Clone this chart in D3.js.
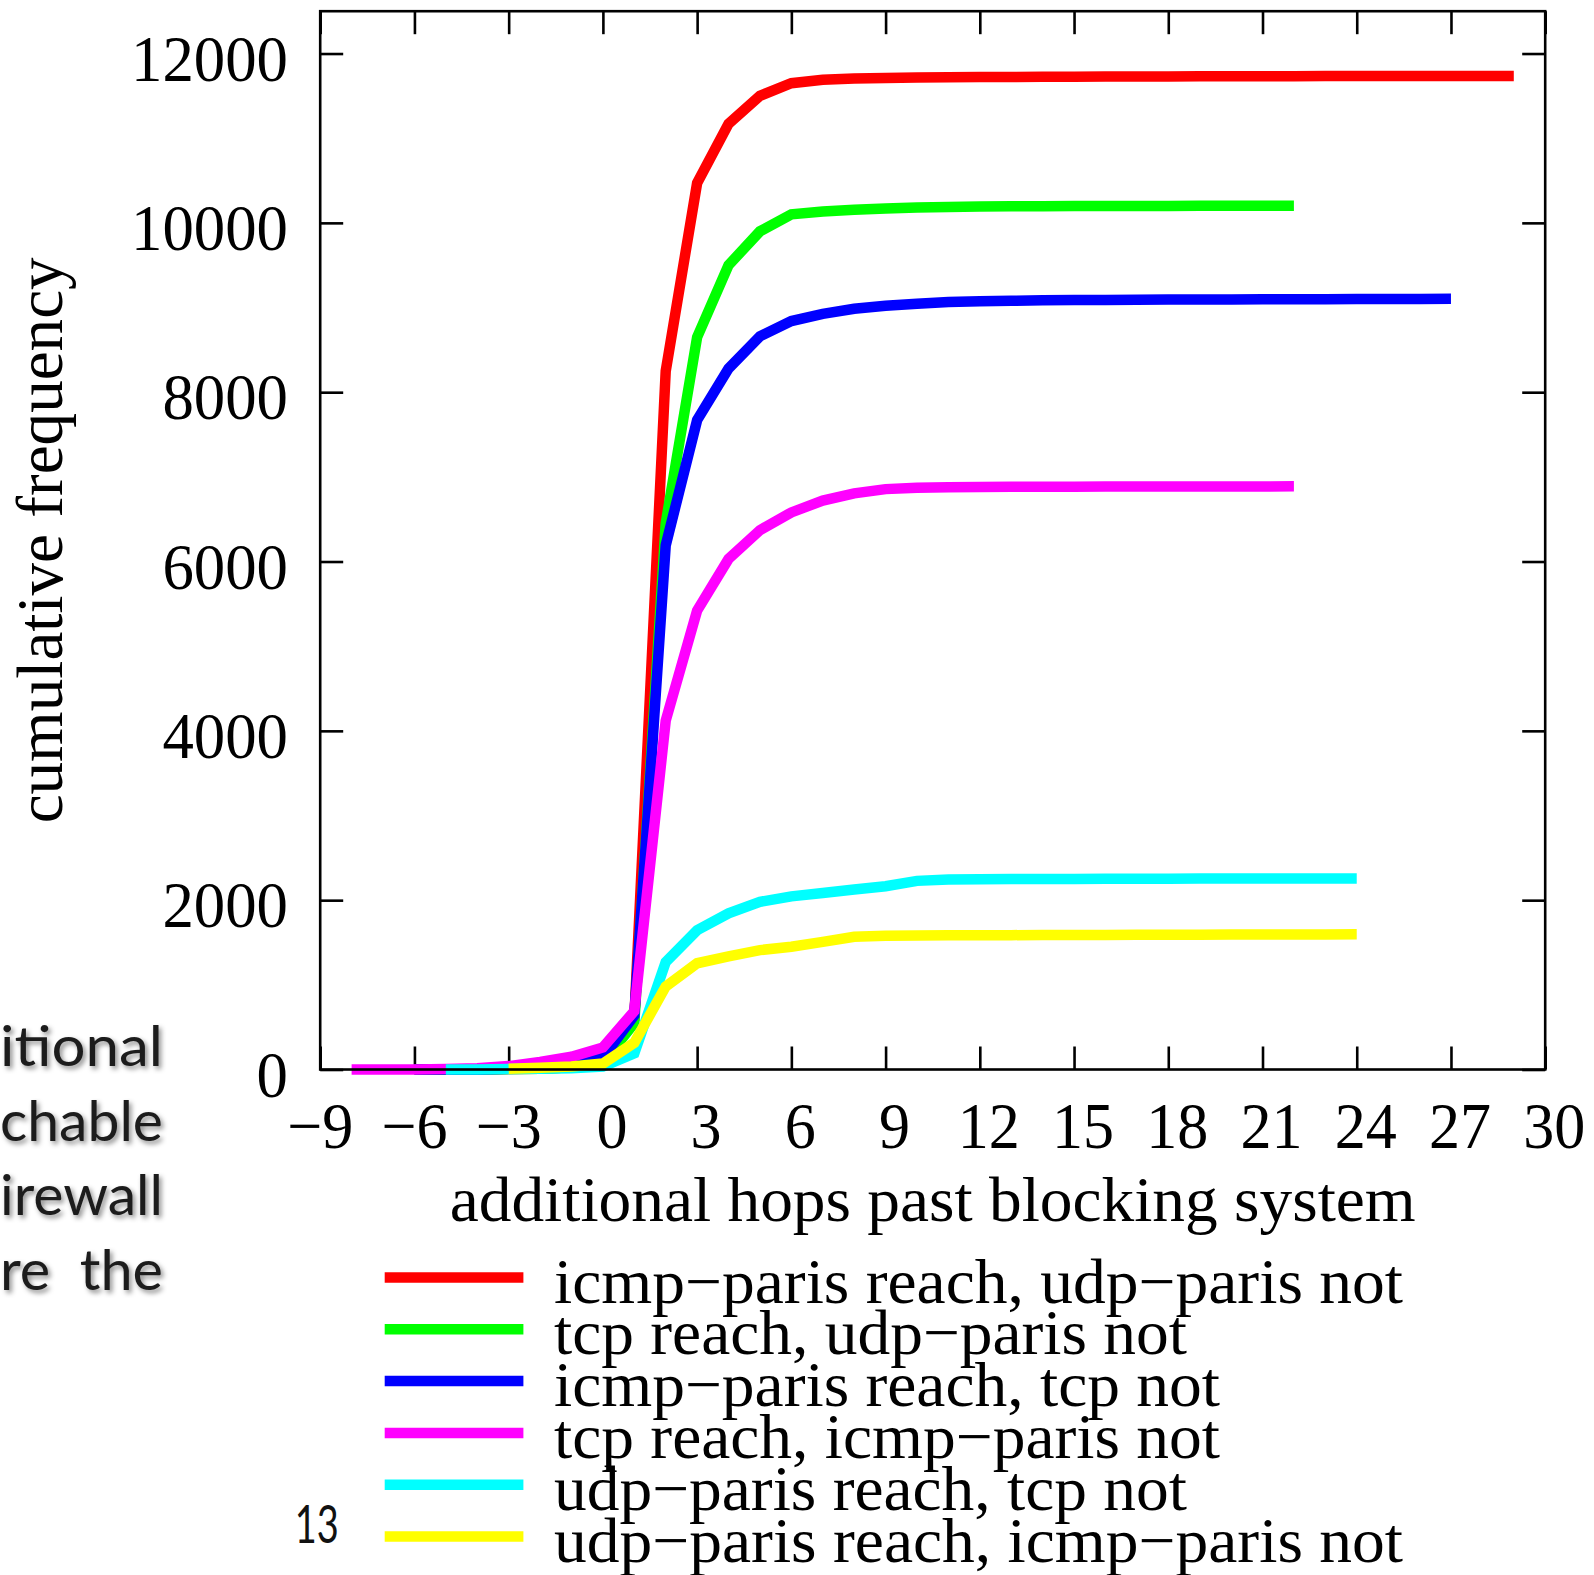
<!DOCTYPE html>
<html>
<head>
<meta charset="utf-8">
<script src="https://cdn.jsdelivr.net/npm/d3@7"></script>
<style>
  html, body { margin: 0; padding: 0; background: #fff; }
  svg { display: block; }
</style>
</head>
<body>
<svg id="chart" width="1594" height="1575"></svg>
<script>
// ---------------- data ----------------
const seriesNames = [
  "icmp\u2212paris reach, udp\u2212paris not",
  "tcp reach, udp\u2212paris not",
  "icmp\u2212paris reach, tcp not",
  "tcp reach, icmp\u2212paris not",
  "udp\u2212paris reach, tcp not",
  "udp\u2212paris reach, icmp\u2212paris not"
];
const seriesColors = ["#ff0000", "#00ff00", "#0000ff", "#ff00ff", "#00ffff", "#ffff00"];
// first hop value (x) of each series; values follow at steps of 1 hop
const seriesStart = [-6, -6, -6, -8, -5, -3];

const icmpNotUdp = [0, 0, 0, 5, 10, 25, 70, 600, 8250, 10470, 11170, 11500, 11650, 11690, 11705, 11712,
  11716, 11720, 11722, 11724, 11725, 11727, 11728, 11729, 11730, 11731, 11732, 11733, 11733, 11734,
  11734, 11735, 11735, 11736, 11736, 11736];
const tcpNotUdp = [0, 0, 0, 5, 10, 25, 80, 550, 6450, 8650, 9500, 9900, 10100, 10135, 10155, 10170,
  10180, 10188, 10192, 10195, 10197, 10198, 10199, 10200, 10200, 10201, 10202, 10202, 10203];
const icmpNotTcp = [0, 0, 0, 10, 25, 55, 140, 640, 6190, 7670, 8280, 8660, 8840, 8925, 8985, 9020,
  9045, 9065, 9075, 9080, 9085, 9088, 9090, 9092, 9094, 9095, 9096, 9097, 9098, 9099, 9100, 9101,
  9102, 9103];
const tcpNotIcmp = [0, 0, 0, 5, 15, 40, 90, 150, 260, 690, 4120, 5420, 6030, 6370, 6580, 6720, 6805,
  6855, 6870, 6878, 6880, 6882, 6883, 6884, 6885, 6885, 6886, 6886, 6887, 6887, 6888];
const udpNotTcp = [0, 0, 5, 10, 15, 35, 190, 1270, 1645, 1845, 1980, 2045, 2085, 2125, 2165, 2228,
  2243, 2247, 2249, 2250, 2251, 2252, 2253, 2254, 2255, 2255, 2256, 2256, 2257, 2257];
const udpNotIcmp = [10, 20, 35, 70, 316, 980, 1255, 1335, 1410, 1450, 1508, 1568, 1580, 1583, 1585,
  1586, 1587, 1588, 1589, 1590, 1591, 1592, 1593, 1594, 1595, 1596, 1596, 1597];

const seriesValues = [icmpNotUdp, tcpNotUdp, icmpNotTcp, tcpNotIcmp, udpNotTcp, udpNotIcmp];

const xTicks = [-9, -6, -3, 0, 3, 6, 9, 12, 15, 18, 21, 24, 27, 30];
const yTicks = [0, 2000, 4000, 6000, 8000, 10000, 12000];
const xTitle = "additional hops past blocking system";
const yTitle = "cumulative frequency";
const slideLines = ["itional", "chable", "irewall", "re  the"];
const slideNumber = "13";

// ---------------- layout ----------------
const svg = d3.select("#chart");
const L = 320.2, R = 1545.2, T = 11.2, B = 1069.5;
const x = d3.scaleLinear().domain([-9, 30]).range([L, R]);
const y = d3.scaleLinear().domain([0, 12500]).range([B, T]);
const serif = "'Liberation Serif', 'Times New Roman', Times, serif";
const tickLen = 23;

function squeeze(sel, factor) {
  sel.each(function() {
    const w = this.getComputedTextLength();
    d3.select(this).attr("textLength", w * factor).attr("lengthAdjust", "spacingAndGlyphs");
  });
}

// ticks (drawn under the curves)
const axB = d3.axisBottom(x).tickValues(xTicks).tickSize(-tickLen).tickFormat("");
const axT = d3.axisTop(x).tickValues(xTicks).tickSize(-tickLen).tickFormat("");
const axLft = d3.axisLeft(y).tickValues(yTicks).tickSize(-tickLen).tickFormat("");
const axRgt = d3.axisRight(y).tickValues(yTicks).tickSize(-tickLen).tickFormat("");
[[axB, `translate(0,${B})`], [axT, `translate(0,${T})`], [axLft, `translate(${L},0)`], [axRgt, `translate(${R},0)`]]
  .forEach(([ax, tr]) => {
    const g = svg.append("g").attr("transform", tr).call(ax);
    g.select(".domain").remove();
    g.selectAll(".tick line").attr("stroke", "#000").attr("stroke-width", 2.6);
  });

// curves
const line = d3.line().x(d => x(d[0])).y(d => y(d[1])).curve(d3.curveLinear);
seriesValues.forEach((vals, i) => {
  const pts = vals.map((v, k) => [seriesStart[i] + k, v]);
  svg.append("path")
    .datum(pts)
    .attr("d", line)
    .attr("fill", "none")
    .attr("stroke", seriesColors[i])
    .attr("stroke-width", 10.5)
    .attr("stroke-linejoin", "miter")
    .attr("stroke-miterlimit", 10)
    .attr("stroke-linecap", "butt");
});

// frame on top
svg.append("rect")
  .attr("x", L).attr("y", T).attr("width", R - L).attr("height", B - T)
  .attr("fill", "none").attr("stroke", "#000").attr("stroke-width", 2.6);

// tick labels
const xl = svg.append("g").selectAll("text").data(xTicks).join("text")
  .attr("x", d => x(d) + (d >= 0 ? 9 : 0))
  .attr("y", 1148)
  .attr("text-anchor", "middle")
  .attr("font-family", serif)
  .attr("font-size", 66)
  .attr("fill", "#000")
  .text(d => d3.format("d")(d));
squeeze(xl, 0.94);

svg.append("g").selectAll("text").data(yTicks).join("text")
  .attr("x", 288)
  .attr("y", d => y(d) + 27)
  .attr("text-anchor", "end")
  .attr("font-family", serif)
  .attr("font-size", 66)
  .attr("fill", "#000")
  .attr("textLength", d => String(d).length * 31.4)
  .attr("lengthAdjust", "spacingAndGlyphs")
  .text(d => d3.format("d")(d));

// axis titles
svg.append("text")
  .attr("x", (L + R) / 2).attr("y", 1221)
  .attr("text-anchor", "middle")
  .attr("font-family", serif).attr("font-size", 64).attr("fill", "#000")
  .attr("textLength", 966).attr("lengthAdjust", "spacingAndGlyphs")
  .text(xTitle);

svg.append("text")
  .attr("transform", `translate(62,${(T + B) / 2}) rotate(-90)`)
  .attr("text-anchor", "middle")
  .attr("font-family", serif).attr("font-size", 66).attr("fill", "#000")
  .attr("textLength", 566).attr("lengthAdjust", "spacingAndGlyphs")
  .text(yTitle);

// legend
const legendWidths = [849, 633, 666, 666, 633, 849];
const lg = svg.append("g");
seriesNames.forEach((name, i) => {
  const cy = 1277.5 + i * 51.8;
  lg.append("line")
    .attr("x1", 384.7).attr("x2", 523.4).attr("y1", cy).attr("y2", cy)
    .attr("stroke", seriesColors[i]).attr("stroke-width", 10.5);
  lg.append("text")
    .attr("x", 554).attr("y", cy + 25)
    .attr("font-family", serif).attr("font-size", 64).attr("fill", "#000")
    .attr("textLength", legendWidths[i]).attr("lengthAdjust", "spacingAndGlyphs")
    .text(name);
});

// slide fragments on the left (behind-the-chart slide text)
const defs = svg.append("defs");
const f = defs.append("filter").attr("id", "shadow").attr("x", "-20%").attr("y", "-30%")
  .attr("width", "140%").attr("height", "160%");
f.append("feDropShadow").attr("dx", 2.5).attr("dy", 3).attr("stdDeviation", 2.5)
  .attr("flood-color", "#000").attr("flood-opacity", 0.45);

const slideBase = [1066, 1141, 1215, 1290];
svg.append("g").selectAll("text").data(slideLines).join("text")
  .attr("x", 163)
  .attr("y", (d, i) => slideBase[i])
  .attr("text-anchor", "end")
  .attr("font-family", "Lato, 'Open Sans', sans-serif")
  .attr("font-size", 57)
  .attr("fill", "#1c1c1c")
  .attr("filter", "url(#shadow)")
  .style("white-space", "pre")
  .attr("textLength", 163).attr("lengthAdjust", "spacingAndGlyphs")
  .text(d => d);

svg.append("text")
  .attr("x", 294.7).attr("y", 1542.7)
  .attr("font-family", "Lato, 'Open Sans', sans-serif")
  .attr("font-size", 52).attr("fill", "#111")
  .attr("textLength", 44).attr("lengthAdjust", "spacingAndGlyphs")
  .text(slideNumber);
</script>
</body>
</html>
